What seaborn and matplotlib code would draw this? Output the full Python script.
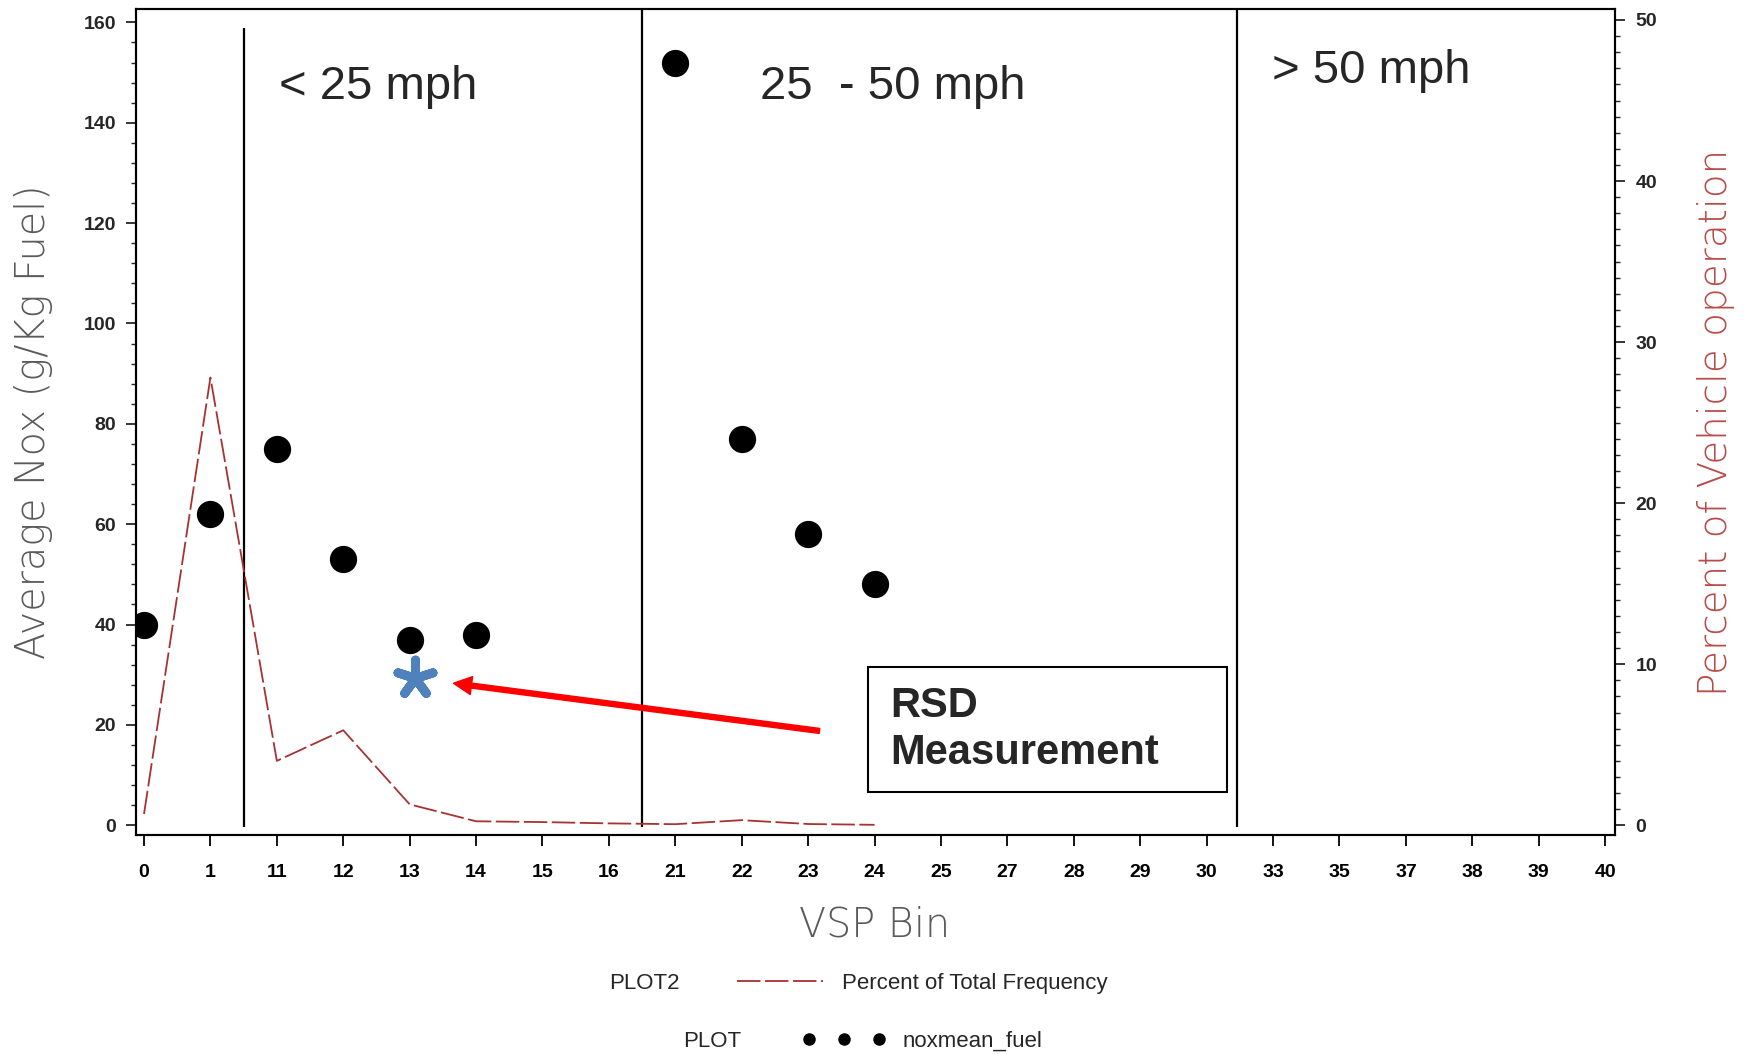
import pandas as pd
import seaborn as sns
import matplotlib.pyplot as plt
from matplotlib.lines import Line2D
from matplotlib.patches import Rectangle
from matplotlib.ticker import MultipleLocator

sns.set_theme(style='ticks')
plt.rcParams['font.family'] = ['Liberation Sans', 'DejaVu Sans']

# VSP bins shown on the x axis (categorical, evenly spaced)
vsp_bins = ['0', '1', '11', '12', '13', '14', '15', '16', '21', '22', '23', '24',
            '25', '27', '28', '29', '30', '33', '35', '37', '38', '39', '40']

# average NOx per bin (left axis)
nox_bins = ['0', '1', '11', '12', '13', '14', '21', '22', '23', '24']
nox_mean = [40, 62, 75, 53, 37, 38, 152, 77, 58, 48]

# percent of total frequency per bin (right axis)
freq_bins = ['0', '1', '11', '12', '13', '14', '15', '16', '21', '22', '23', '24']
freq_pct = [0.7, 27.8, 4.0, 5.9, 1.3, 0.25, 0.2, 0.12, 0.07, 0.32, 0.08, 0.03]

# RSD measurement
rsd_bin = ['13']
rsd_nox = [29.3]

# speed regions: separators after these bins, labels
split_after = ['1', '16', '30']
region_labels = ['< 25 mph', '25  - 50 mph', '> 50 mph']

pos = {b: i for i, b in enumerate(vsp_bins)}
nox_df = pd.DataFrame({'bin': nox_bins, 'nox': nox_mean})
nox_df['x'] = nox_df['bin'].map(pos)
freq_df = pd.DataFrame({'bin': freq_bins, 'pct': freq_pct})
freq_df['x'] = freq_df['bin'].map(pos)
rsd_df = pd.DataFrame({'bin': rsd_bin, 'nox': rsd_nox})
rsd_df['x'] = rsd_df['bin'].map(pos) + 0.08

line_color = '#a83232'
label_grey = '#5a5a5a'

fig = plt.figure(figsize=(17.44, 10.54), dpi=100)
ax = fig.add_axes([0.078, 0.2075, 0.8481, 0.7841])
ax2 = ax.twinx()

sns.scatterplot(data=nox_df, x='x', y='nox', ax=ax, color='black', s=330,
                edgecolor='black', zorder=3)
sns.scatterplot(data=rsd_df, x='x', y='nox', ax=ax, marker=(5, 2, 0), s=700,
                color='#4f81bd', linewidth=6.5, zorder=3)
sns.lineplot(data=freq_df, x='x', y='pct', ax=ax2, color=line_color, lw=1.3,
             linestyle=(0, (13, 2.5)))

# region separators
sep_x = [pos[b] + 0.5 for b in split_after]
sep_x[2] -= 0.05
ax.vlines(sep_x, ymin=-0.3, ymax=[158.9, 162.4, 162.4], color='black', lw=1.6)

# region labels
ax.text(2.03, 144.7, region_labels[0], fontsize=34, ha='left', va='baseline')
ax.text(9.28, 144.7, region_labels[1], fontsize=34, ha='left', va='baseline')
ax.text(16.98, 147.9, region_labels[2], fontsize=34, ha='left', va='baseline')

# RSD annotation
ax.annotate('', xy=(4.66, 28.3), xytext=(10.17, 18.8),
            arrowprops=dict(facecolor='red', edgecolor='red', width=3.6,
                            headwidth=13, headlength=13, shrink=0))
ax.add_patch(Rectangle((0.4946, 0.0525), 0.2429, 0.1508, transform=ax.transAxes,
                       fill=False, ec='black', lw=1.5, zorder=4))
ax.text(0.5097, 0.128, 'RSD\nMeasurement', transform=ax.transAxes, fontsize=30,
        fontweight='bold', ha='left', va='center', linespacing=1.2)

# axes
ax.set_xlim(-0.12, 22.15)
ax.set_ylim(-2, 162.7)
ax2.set_ylim(-0.62, 50.69)
ax.set_xticks(range(len(vsp_bins)))
ax.set_xticklabels(vsp_bins)
ax.yaxis.set_major_locator(MultipleLocator(20))
ax.yaxis.set_minor_locator(MultipleLocator(4))
ax2.yaxis.set_major_locator(MultipleLocator(10))
ax2.yaxis.set_minor_locator(MultipleLocator(1))

ax.tick_params(axis='x', which='major', length=8, width=1.3, labelsize=14, pad=13,
               colors='black')
ax.tick_params(axis='y', which='major', length=7, width=1.3, labelsize=14, pad=7.5)
ax.tick_params(axis='y', which='minor', length=3.6, width=1.0)
ax2.tick_params(axis='y', which='major', length=7, width=1.3, labelsize=14, pad=7.5)
ax2.tick_params(axis='y', which='minor', length=3.6, width=1.0)
for lab in ax.get_xticklabels() + ax.get_yticklabels() + ax2.get_yticklabels():
    lab.set_fontweight('bold')

for a in (ax, ax2):
    for sp in a.spines.values():
        sp.set_color('black')
        sp.set_linewidth(1.5)

lab_font = dict(family='DejaVu Sans', fontweight='light')
ax.set_xlabel('VSP Bin', color=label_grey, fontsize=28.5, **lab_font)
ax.xaxis.set_label_coords(0.499, -0.1086)
ax.xaxis.label.set_va('center')
ax.set_ylabel('Average Nox (g/Kg Fuel)', color=label_grey, fontsize=28.5, **lab_font)
ax.yaxis.set_label_coords(-0.069, 0.5)
ax.yaxis.label.set_va('center')
ax2.set_ylabel('Percent of Vehicle operation', color='#b94a48', fontsize=28, **lab_font)
ax2.yaxis.set_label_coords(1.068, 0.5)
ax2.yaxis.label.set_va('center')

# legend rows
fig.text(0.3495, 0.0672, 'PLOT2', fontsize=16, va='center')
fig.text(0.3916, 0.0123, 'PLOT', fontsize=16, va='center')
line_handle = Line2D([], [], color=line_color, lw=1.3, linestyle=(0, (13, 2.5)))
dot_handle = Line2D([], [], color='black', marker='o', ls='none', markersize=8)
fig.legend(handles=[line_handle], labels=['Percent of Total Frequency'],
           loc='center left', bbox_to_anchor=(0.4228, 0.0672), frameon=False,
           borderpad=0, borderaxespad=0, handlelength=3.85, handletextpad=0.85,
           fontsize=16)
fig.legend(handles=[dot_handle], labels=['noxmean_fuel'], numpoints=3,
           loc='center left', bbox_to_anchor=(0.4601, 0.0123), frameon=False,
           borderpad=0, borderaxespad=0, handlelength=3.75, handletextpad=0.75,
           fontsize=16)

fig.savefig('out.png', dpi=100)
